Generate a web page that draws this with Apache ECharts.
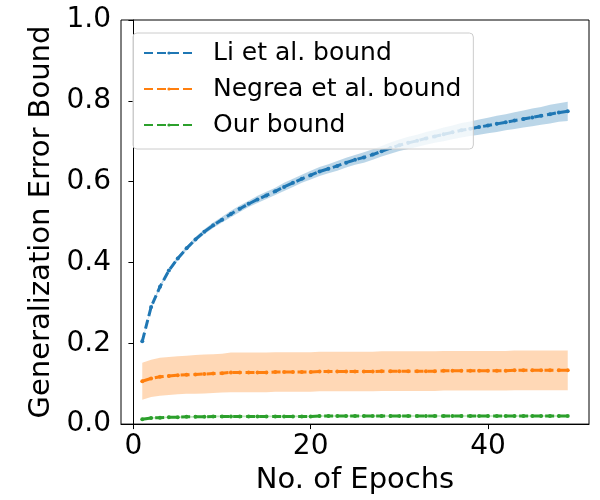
<!DOCTYPE html>
<html>
<head>
<meta charset="utf-8">
<script src="https://cdn.jsdelivr.net/npm/echarts@6/dist/echarts.min.js"></script>
<style>
  html, body { margin: 0; padding: 0; background: #fff; }
  #chart { width: 600px; height: 500px; }
</style>
</head>
<body>
<div id="chart"></div>
<script>
// epochs 1..49
const epochs = [1,2,3,4,5,6,7,8,9,10,11,12,13,14,15,16,17,18,19,20,21,22,23,24,25,
  26,27,28,29,30,31,32,33,34,35,36,37,38,39,40,41,42,43,44,45,46,47,48,49];

// Li et al. bound (mean and spread)
const liMean = [0.205,0.290,0.340,0.380,0.410,0.435,0.457,0.476,0.492,0.506,
  0.520,0.533,0.545,0.556,0.566,0.576,0.587,0.597,0.607,0.616,
  0.625,0.632,0.639,0.647,0.654,0.660,0.667,0.675,0.683,0.690,
  0.696,0.701,0.707,0.712,0.717,0.722,0.727,0.731,0.735,0.739,
  0.743,0.747,0.751,0.755,0.759,0.763,0.767,0.771,0.774];
const liStd = [0.002,0.003,0.004,0.004,0.005,0.005,0.006,0.006,0.007,0.007,
  0.008,0.008,0.008,0.009,0.009,0.009,0.010,0.010,0.010,0.011,
  0.011,0.011,0.012,0.012,0.012,0.013,0.013,0.013,0.014,0.014,
  0.015,0.015,0.016,0.016,0.017,0.017,0.018,0.018,0.019,0.019,
  0.020,0.020,0.021,0.021,0.022,0.022,0.023,0.023,0.024];

// Negrea et al. bound
const negreaMean = [0.106,0.113,0.117,0.119,0.121,0.122,0.123,0.124,0.125,0.126,
  0.128,0.128,0.128,0.128,0.128,0.129,0.129,0.129,0.129,0.129,
  0.130,0.130,0.130,0.130,0.130,0.130,0.130,0.131,0.131,0.131,
  0.131,0.131,0.131,0.131,0.132,0.132,0.132,0.132,0.132,0.132,
  0.132,0.132,0.133,0.133,0.133,0.133,0.133,0.133,0.133];
const negreaStd = [0.046,0.046,0.047,0.047,0.047,0.047,0.048,0.048,0.048,0.048,
  0.049,0.049,0.049,0.049,0.049,0.049,0.049,0.049,0.049,0.049,
  0.049,0.049,0.049,0.049,0.049,0.049,0.049,0.049,0.049,0.049,
  0.049,0.049,0.049,0.049,0.049,0.049,0.049,0.049,0.049,0.049,
  0.049,0.049,0.049,0.049,0.049,0.049,0.049,0.049,0.049];

// Our bound
const oursMean = [0.012,0.015,0.016,0.017,0.017,0.018,0.018,0.018,0.019,0.019,
  0.019,0.019,0.019,0.019,0.019,0.019,0.019,0.019,0.019,0.019,
  0.020,0.020,0.020,0.020,0.020,0.020,0.020,0.020,0.020,0.020,
  0.020,0.020,0.020,0.020,0.020,0.020,0.020,0.020,0.020,0.020,
  0.020,0.020,0.020,0.020,0.020,0.020,0.020,0.020,0.020];
const oursStd = [0.002,0.002,0.002,0.002,0.002,0.002,0.002,0.002,0.002,0.002,
  0.002,0.002,0.002,0.002,0.002,0.002,0.002,0.002,0.002,0.002,
  0.002,0.002,0.002,0.002,0.002,0.002,0.002,0.002,0.002,0.002,
  0.002,0.002,0.002,0.002,0.002,0.002,0.002,0.002,0.002,0.002,
  0.002,0.002,0.002,0.002,0.002,0.002,0.002,0.002,0.002];

const xTicks = [0, 20, 40];
const names = ['Li et al. bound', 'Negrea et al. bound', 'Our bound'];
const colors = ['#1f77b4', '#ff7f0e', '#2ca02c'];
const bandColors = ['rgba(31,119,180,0.3)', 'rgba(255,127,14,0.3)', 'rgba(44,160,44,0.3)'];

const FONT = 'DejaVu Sans';

function pairs(vals) {
  return epochs.map((e, i) => [e, vals[i]]);
}

// shaded band (mean ± std) as one polygon, placed through the axes
function bandSeries(key, mean, std, color) {
  const rows = epochs.map((e, i) => [e, mean[i] - std[i], mean[i] + std[i]]);
  return {
    name: key + '_band', type: 'custom', silent: true, z: 1,
    data: rows,
    encode: { x: 0, y: [1, 2] },
    renderItem: function (params, api) {
      if (params.dataIndex !== 0) return null;
      const upper = rows.map(r => api.coord([r[0], r[2]]));
      const lower = rows.map(r => api.coord([r[0], r[1]])).reverse();
      return {
        type: 'polygon',
        shape: { points: upper.concat(lower) },
        style: { fill: color, stroke: null }
      };
    }
  };
}

function meanSeries(name, mean, color) {
  return {
    name: name, type: 'line', data: pairs(mean), z: 3,
    symbol: 'circle', symbolSize: 4, showSymbol: true,
    itemStyle: { color: color },
    lineStyle: { color: color, width: 3, type: [9, 4] }
  };
}

const chart = echarts.init(document.getElementById('chart'));

const option = {
  animation: false,
  grid: {
    left: 121, right: 11, top: 20, bottom: 75,
    show: true, borderColor: '#000', borderWidth: 1
  },
  legend: {
    data: names,
    orient: 'vertical',
    left: 133, top: 33,
    padding: [7, 12, 11, 10],
    itemWidth: 50, itemHeight: 4, itemGap: 10,
    backgroundColor: 'rgba(255,255,255,0.8)',
    borderColor: '#cccccc', borderWidth: 1, borderRadius: 4,
    textStyle: { fontFamily: FONT, fontSize: 25, color: '#000', lineHeight: 26, padding: [0, 0, 0, 14] }
  },
  xAxis: {
    type: 'value', min: -1.4, max: 51.4,
    name: 'No. of Epochs', nameLocation: 'middle', nameGap: 40,
    nameTextStyle: { fontFamily: FONT, fontSize: 29, color: '#000' },
    axisLine: { show: true, lineStyle: { color: '#000', width: 1 } },
    axisTick: { show: true, inside: false, length: 5, customValues: xTicks, lineStyle: { color: '#000' } },
    axisLabel: { customValues: xTicks, margin: 9, fontFamily: FONT, fontSize: 28, color: '#000' },
    splitLine: { show: false }
  },
  yAxis: {
    type: 'value', min: 0, max: 1, interval: 0.2,
    name: 'Generalization Error Bound', nameLocation: 'middle', nameGap: 63,
    nameTextStyle: { fontFamily: FONT, fontSize: 29, color: '#000' },
    axisLine: { show: true, lineStyle: { color: '#000', width: 1 } },
    axisTick: { show: true, inside: false, length: 5, lineStyle: { color: '#000' } },
    axisLabel: { margin: 10, fontFamily: FONT, fontSize: 28, color: '#000', formatter: v => v.toFixed(1) },
    splitLine: { show: false }
  },
  series: [
    bandSeries('li', liMean, liStd, bandColors[0]),
    bandSeries('negrea', negreaMean, negreaStd, bandColors[1]),
    bandSeries('ours', oursMean, oursStd, bandColors[2]),
    meanSeries(names[0], liMean, colors[0]),
    meanSeries(names[1], negreaMean, colors[1]),
    meanSeries(names[2], oursMean, colors[2])
  ]
};

chart.setOption(option);
</script>
</body>
</html>
